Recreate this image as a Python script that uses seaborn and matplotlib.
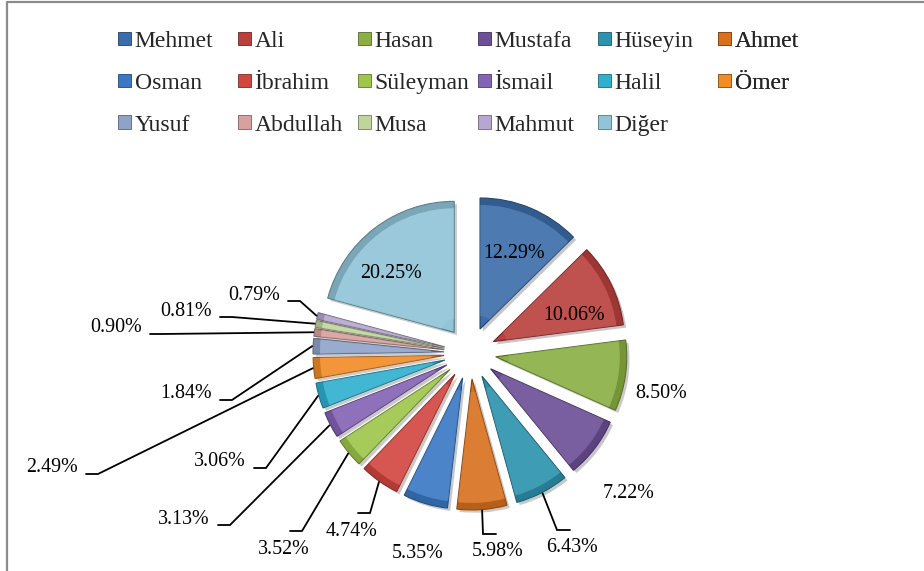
import matplotlib
matplotlib.use("Agg")
import matplotlib.pyplot as plt
import matplotlib.patheffects as pe
from matplotlib.colors import to_rgb
from matplotlib.patches import Patch, Wedge
import numpy as np
import seaborn as sns

# data
names = ["Mehmet", "Ali", "Hasan", "Mustafa", "Hüseyin", "Ahmet",
         "Osman", "İbrahim", "Süleyman", "İsmail", "Halil", "Ömer",
         "Yusuf", "Abdullah", "Musa", "Mahmut", "Diğer"]
shares = [12.29, 10.06, 8.50, 7.22, 6.43, 5.98,
          5.35, 4.74, 3.52, 3.13, 3.06, 2.49,
          1.84, 0.90, 0.81, 0.79, 20.25]
colors = ["#3b6daa", "#b9403d", "#8baf43", "#6d4f97", "#2c93ae", "#d8701e",
          "#3a78c3", "#d24640", "#9dc64a", "#8462b5", "#2fb0cf", "#f28c27",
          "#8fa3c9", "#d8a09e", "#c0d49c", "#b6a6d1", "#90c4d8"]

# label layout (pixel positions of the value labels, leader style)
label_xy = [(514, 253), (574, 315), (661, 394), (628, 494), (572, 548), (498, 552),
            (418, 553), (352, 531), (284, 549), (184, 519), (220, 462), (52, 468),
            (186, 394), (116, 328), (186, 311), (254, 295), (391, 273)]
leader = ["in", "in", "none", "none", "tl", "tl",
          "none", "tr", "tr", "r", "r", "r",
          "r", "r", "r", "r", "in"]
leader_offsets = {"r": [(34, 6), (46, 6)],
                  "tr": [(6, -18), (18, -18)],
                  "tl": [(-2, -18), (-15, -18)]}


def darken(c, f=0.7):
    r, g, b = to_rgb(c)
    return (r * f, g * f, b * f)


def lighten(c, f=0.45):
    r, g, b = to_rgb(c)
    return (r + (1 - r) * f, g + (1 - g) * f, b + (1 - b) * f)


sns.set_theme(style="white")
plt.rcParams["font.family"] = ["Liberation Serif", "DejaVu Serif"]

W, H = 924, 571
fig = plt.figure(figsize=(W / 100, H / 100), dpi=100)
ax = fig.add_axes([0, 0, 1, 1])

# explode is in data units here (pixels)
wedges, _ = ax.pie(shares, colors=colors, explode=[26] * len(shares),
                   startangle=-90, counterclock=True,
                   center=(470, 353), radius=131,
                   wedgeprops=dict(linewidth=0.8,
                                   path_effects=[pe.SimplePatchShadow(offset=(2, -2), alpha=0.25),
                                                 pe.Normal()]))
ax.set_xlim(0, W)
ax.set_ylim(H, 0)
ax.set_aspect("auto")
ax.axis("off")

# bevel-ish shading
for w, c in zip(wedges, colors):
    w.set_edgecolor(darken(c, 0.6))
    ax.add_patch(Wedge(w.center, w.r, w.theta1, w.theta2, width=7,
                       facecolor=darken(c, 0.75), edgecolor="none", alpha=0.6))
    ax.add_patch(Wedge(w.center, w.r - 7, w.theta1, w.theta2, width=w.r - 20,
                       facecolor=lighten(c, 0.18), edgecolor="none", alpha=0.5))

# value labels and leader lines
for w, v, (tx, ty), kind in zip(wedges, shares, label_xy, leader):
    ax.text(tx, ty, f"{v:.2f}%", ha="center", va="center", fontsize=14.4, color="black")
    if kind in leader_offsets:
        mid = np.deg2rad((w.theta1 + w.theta2) / 2)
        axp = w.center[0] + (w.r + 1) * np.cos(mid)
        ayp = w.center[1] + (w.r + 1) * np.sin(mid)
        (dx1, dy1), (dx2, dy2) = leader_offsets[kind]
        ax.plot([tx + dx1, tx + dx2, axp], [ty + dy1, ty + dy2, ayp],
                color="black", lw=1.3, solid_joinstyle="miter")

# chart frame (top and left edges visible)
ax.plot([7, 7, W], [H, 2, 2], color="#8c8c8c", lw=1.6)

# legend: 6 columns, 3 rows, evenly spaced
col_x = [118, 238, 358, 478, 598, 718]
for j, x in enumerate(col_x):
    idx = [i for i in (j, j + 6, j + 12) if i < len(names)]
    handles = [Patch(facecolor=colors[i], edgecolor=darken(colors[i], 0.6), linewidth=0.6) for i in idx]
    leg = ax.legend(handles, [names[i] for i in idx], loc="upper left",
                    bbox_to_anchor=(x / W, 1 - 31 / H), bbox_transform=fig.transFigure,
                    frameon=False, fontsize=17, handlelength=0.55, handleheight=0.5,
                    handletextpad=0.15, labelspacing=0.88, borderpad=0, borderaxespad=0)
    ax.add_artist(leg)

fig.savefig("out.png", dpi=100)
